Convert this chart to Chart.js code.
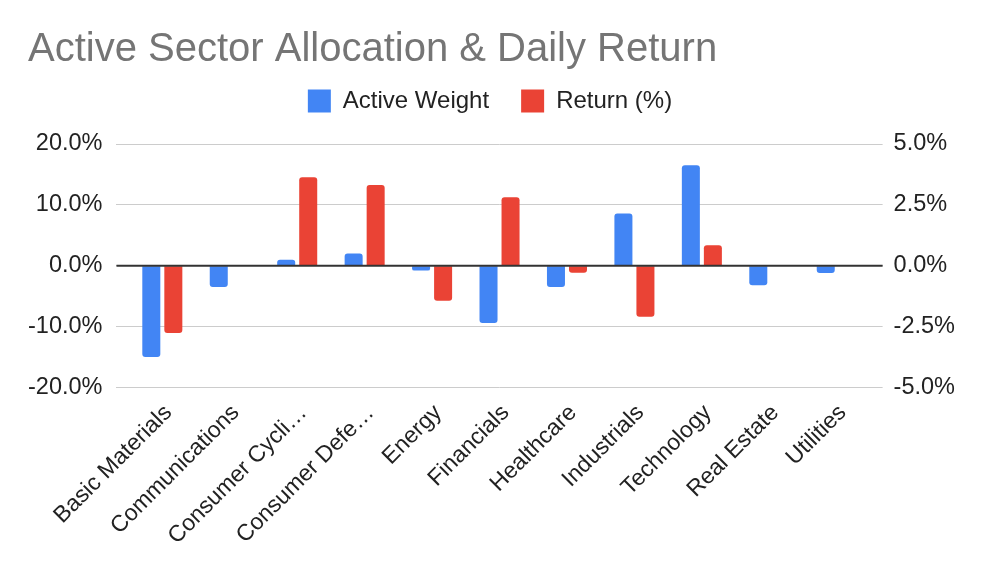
<!DOCTYPE html>
<html>
<head>
<meta charset="utf-8">
<script src="https://cdn.jsdelivr.net/npm/chart.js@4"></script>
<style>
  html, body { margin: 0; padding: 0; background: #fff; }
  #wrap { width: 986px; height: 572px; }
</style>
</head>
<body>
<div id="wrap"><canvas id="sector_chart"></canvas></div>
<script>
var sectors = ['Basic Materials', 'Communications', 'Consumer Cyclical', 'Consumer Defensive', 'Energy',
    'Financials', 'Healthcare', 'Industrials', 'Technology', 'Real Estate', 'Utilities'];
var tickLabels = ['Basic Materials', 'Communications', 'Consumer Cycli\u2026', 'Consumer Defe\u2026', 'Energy',
    'Financials', 'Healthcare', 'Industrials', 'Technology', 'Real Estate', 'Utilities'];
var activeWeight = [-15.0, -3.5, 1.0, 2.0, -0.8, -9.4, -3.5, 8.6, 16.5, -3.2, -1.2]; // %
var dailyReturn = [-2.76, null, 3.63, 3.32, -1.44, 2.81, -0.29, -2.10, 0.84, null, null]; // %
var leftTicks = [-20, -10, 0, 10, 20];
var rightTicks = [-5, -2.5, 0, 2.5, 5];

document.addEventListener("DOMContentLoaded", function() {
    var ctx = document.getElementById('sector_chart').getContext('2d');
    var font = "'Liberation Sans', Arial, sans-serif";

    // dark zero line drawn on top of the bars
    var zeroLine = {
        id: 'zeroLine',
        afterDatasetsDraw: function(chart) {
            var y = chart.scales.y.getPixelForValue(0);
            var c = chart.ctx;
            c.save();
            c.strokeStyle = '#333333';
            c.lineWidth = 2;
            c.beginPath();
            c.moveTo(chart.chartArea.left, y);
            c.lineTo(chart.chartArea.right, y);
            c.stroke();
            c.restore();
        }
    };

    // extra room under the legend, title pushed in from the edge
    var tweaks = {
        id: 'tweaks',
        beforeInit: function(chart) {
            var fit = chart.legend.fit;
            chart.legend.fit = function() {
                fit.bind(chart.legend)();
                this.height += 21;
            };
        },
        afterLayout: function(chart) {
            chart.titleBlock.left += 14;
        }
    };

    new Chart(ctx, {
        type: 'bar',
        data: {
            labels: sectors,
            datasets: [{
                label: 'Active Weight',
                data: activeWeight,
                yAxisID: 'y',
                backgroundColor: '#4285F4',
                borderRadius: 3
            }, {
                label: 'Return (%)',
                data: dailyReturn,
                yAxisID: 'y1',
                backgroundColor: '#EA4335',
                borderRadius: 3
            }]
        },
        options: {
            responsive: true,
            maintainAspectRatio: false,
            animation: false,
            datasets: { bar: { categoryPercentage: 0.653, barPercentage: 0.818 } },
            layout: { padding: { left: 14, right: 20, top: 0, bottom: 18 } },
            plugins: {
                title: {
                    display: true,
                    text: 'Active Sector Allocation & Daily Return',
                    align: 'start',
                    color: '#757575',
                    font: { family: font, size: 40, weight: 'normal' },
                    padding: { top: 26, bottom: -17 }
                },
                legend: {
                    position: 'top',
                    labels: {
                        color: '#222222',
                        font: { family: font, size: 24 },
                        boxWidth: 23,
                        boxHeight: 23,
                        padding: 32
                    }
                },
                tooltip: { enabled: false }
            },
            scales: {
                x: {
                    afterBuildTicks: function(scale) {
                        // a little room at both ends, like the original
                        var pad = 0.18;
                        scale._startValue = -0.5 - pad;
                        scale._valueRange = sectors.length + 2 * pad;
                    },
                    afterFit: function(scale) {
                        scale.paddingLeft = 0;
                        scale.paddingRight = 0;
                    },
                    grid: { display: false },
                    border: { display: false },
                    ticks: {
                        color: '#222222',
                        font: { family: font, size: 23 },
                        minRotation: 45,
                        maxRotation: 45,
                        autoSkip: false,
                        padding: 4,
                        labelOffset: 6,
                        callback: function(v, i) { return tickLabels[i]; }
                    }
                },
                y: {
                    position: 'left',
                    min: leftTicks[0],
                    max: leftTicks[leftTicks.length - 1],
                    afterBuildTicks: function(scale) {
                        scale.ticks = leftTicks.map(function(v) { return { value: v }; });
                    },
                    grid: { color: '#cccccc', lineWidth: 1, drawTicks: false },
                    border: { display: false },
                    ticks: {
                        color: '#222222',
                        font: { family: font, size: 23.5 },
                        padding: 14,
                        callback: function(v) { return v.toFixed(1) + '%'; }
                    }
                },
                y1: {
                    position: 'right',
                    min: rightTicks[0],
                    max: rightTicks[rightTicks.length - 1],
                    afterBuildTicks: function(scale) {
                        scale.ticks = rightTicks.map(function(v) { return { value: v }; });
                    },
                    grid: { drawOnChartArea: false, drawTicks: false },
                    border: { display: false },
                    ticks: {
                        color: '#222222',
                        font: { family: font, size: 23.5 },
                        padding: 11,
                        callback: function(v) { return v.toFixed(1) + '%'; }
                    }
                }
            }
        },
        plugins: [zeroLine, tweaks]
    });
});
</script>
</body>
</html>
